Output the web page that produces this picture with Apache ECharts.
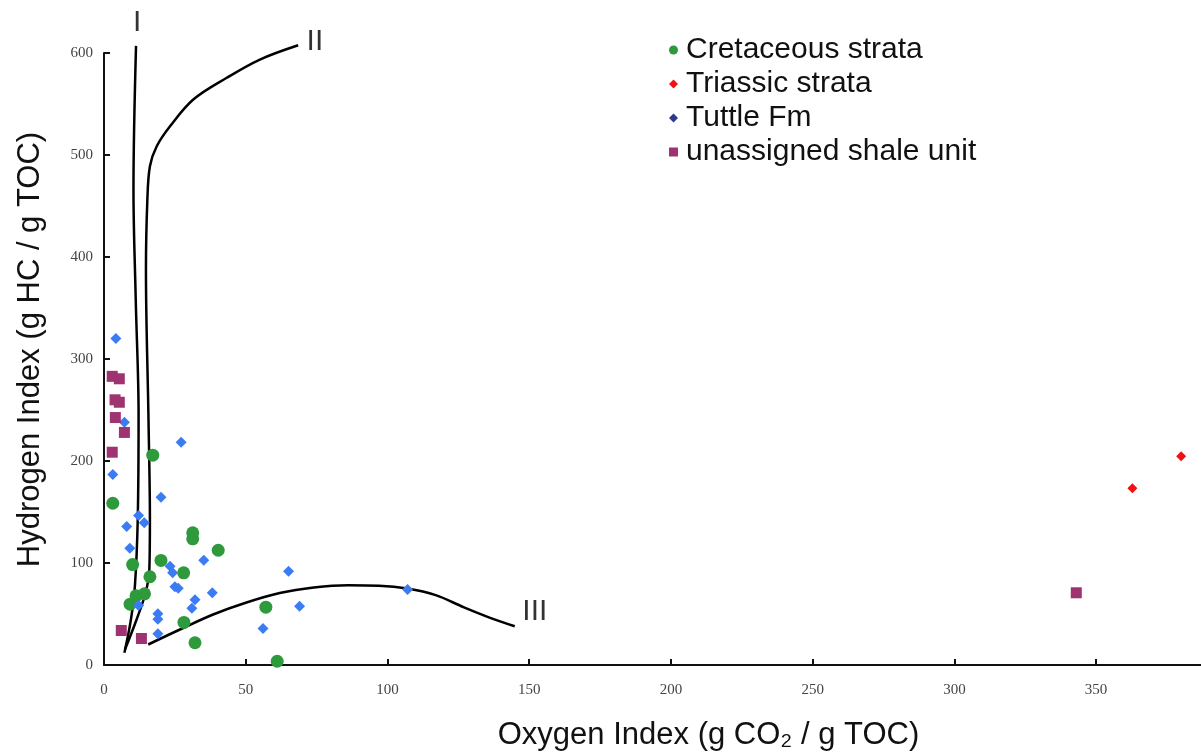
<!DOCTYPE html>
<html>
<head>
<meta charset="UTF-8">
<title>Hydrogen Index vs Oxygen Index</title>
<script type="text/javascript" src="https://cdn.jsdelivr.net/npm/echarts@6/dist/echarts.min.js"></script>
<style>
  html, body { margin: 0; padding: 0; background: #fff; }
</style>
</head>
<body>
<div id="mychart" style="width:1201px;height:756px;"></div>

<script type="text/javascript">

// sample points [Oxygen Index, Hydrogen Index]
var cretaceous = [
  [3.1, 158.6], [17.2, 205.7], [10.1, 98.5], [20.1, 102.5], [31.3, 129.6], [31.3, 123.7],
  [40.3, 112.5], [28.1, 90.4], [16.2, 86.5], [11.3, 67.8], [14.3, 69.8], [9.2, 59.6],
  [28.2, 41.7], [32.1, 21.8], [57.1, 56.7], [61.1, 3.7]
];
var triassic = [[362.8, 173.3], [380.0, 204.7]];
var tuttle = [
  [4.2, 320], [7.2, 238], [27.2, 218.5], [3.1, 186.8], [20.1, 164.5], [12.2, 146.6],
  [8.0, 135.8], [14.2, 139.4], [9.1, 114.5], [35.2, 102.7], [23.3, 96.9], [24.2, 90.4],
  [25.0, 76.7], [26.2, 75.3], [38.2, 70.8], [32.1, 63.9], [31.0, 55.7], [12.2, 58.3],
  [19.0, 50.2], [19.0, 44.9], [19.0, 30.6], [65.1, 92], [69.0, 57.7], [56.1, 35.8],
  [107.1, 74]
];
var unassigned = [
  [2.9, 283], [5.4, 280.6], [3.9, 260], [5.4, 257.6], [4.0, 242.6], [7.2, 228],
  [2.9, 208.6], [6.1, 33.8], [13.2, 26], [343, 70.8]
];

// kerogen type reference curves
var curveI = [
  [7.2, 12], [9.5, 44.6], [10.9, 77.3], [11.9, 142.6], [12.2, 245], [11.2, 358],
  [10.4, 466], [11.3, 607]
];
var curveII = [
  [7.4, 15.2], [11.5, 44.6], [14.7, 71.1], [16.0, 93.6], [16.2, 142.6], [15.7, 240.7],
  [14.8, 387.7], [15.3, 456.4], [16.2, 489], [18.6, 508.6], [23.3, 528.2], [31.5, 554.4],
  [43.3, 575.7], [55.0, 593.6], [68.5, 607.6]
];
var curveIII = [
  [15.6, 20.1], [26.8, 34.8], [38.5, 49.5], [50, 61], [62, 70.5], [74, 76], [86, 78.3],
  [97, 77.8], [107, 75], [117, 68.5], [127, 56.5], [136, 46.5], [144.9, 38]
];
var curveLabels = [
  {name: 'I', value: [11.7, 630]},
  {name: 'II', value: [74.4, 611]},
  {name: 'III', value: [152, 52.5]}
];

var mychart = echarts.init(document.getElementById('mychart'));

var tickFont = {fontFamily: 'Liberation Serif', fontSize: 15, color: '#444'};
var titleFont = {fontFamily: 'Liberation Sans', fontSize: 31, color: '#111'};

function curve(data) {
  return {
    type: 'line',
    data: data,
    smooth: 0.35,
    showSymbol: false,
    clip: false,
    silent: true,
    lineStyle: {color: '#000', width: 2.5},
    z: 1
  };
}

var option = {
  animation: false,
  grid: {left: 104, right: 0, top: 53, bottom: 90},
  legend: {
    orient: 'vertical',
    left: 664,
    top: 28,
    itemWidth: 9,
    itemHeight: 9,
    itemGap: 0,
    textStyle: {fontFamily: 'Liberation Sans', fontSize: 30, color: '#111', lineHeight: 34, padding: [0, 0, 0, 3]},
    data: [
      {name: 'Cretaceous strata', icon: 'circle'},
      {name: 'Triassic strata', icon: 'diamond'},
      {name: 'Tuttle Fm', icon: 'diamond', itemStyle: {color: '#2b3990'}},
      {name: 'unassigned shale unit', icon: 'rect'}
    ]
  },
  xAxis: {
    type: 'value',
    min: 0,
    max: 387,
    interval: 50,
    splitLine: {show: false},
    axisLine: {lineStyle: {color: '#111', width: 2}},
    axisTick: {inside: true, length: 6, lineStyle: {color: '#111', width: 2}},
    axisLabel: Object.assign({margin: 18, showMaxLabel: false}, tickFont),
    name: 'Oxygen Index (g CO₂ / g TOC)',
    nameLocation: 'middle',
    nameGap: 55,
    nameTextStyle: Object.assign({padding: [0, 0, 0, 112]}, titleFont)
  },
  yAxis: {
    type: 'value',
    min: 0,
    max: 600,
    interval: 100,
    splitLine: {show: false},
    axisLine: {show: true, lineStyle: {color: '#111', width: 2}},
    axisTick: {show: true, inside: true, length: 6, lineStyle: {color: '#111', width: 2}},
    axisLabel: Object.assign({margin: 11}, tickFont),
    name: 'Hydrogen Index (g HC / g TOC)',
    nameLocation: 'middle',
    nameGap: 58,
    nameTextStyle: Object.assign({padding: [0, 0, 0, 19]}, titleFont)
  },
  series: [
    curve(curveI),
    curve(curveII),
    curve(curveIII),
    {
      type: 'scatter',
      data: curveLabels,
      symbolSize: 0,
      clip: false,
      silent: true,
      label: {
        show: true,
        position: 'inside',
        formatter: '{b}',
        fontFamily: 'Liberation Sans',
        fontSize: 30,
        color: '#000'
      }
    },
    {
      name: 'Cretaceous strata',
      type: 'scatter',
      symbol: 'circle',
      symbolSize: 13,
      data: cretaceous,
      itemStyle: {color: '#2f9a3c', opacity: 1},
      z: 3
    },
    {
      name: 'Triassic strata',
      type: 'scatter',
      symbol: 'diamond',
      symbolSize: 10,
      data: triassic,
      itemStyle: {color: '#f21111', opacity: 1},
      z: 3
    },
    {
      name: 'Tuttle Fm',
      type: 'scatter',
      symbol: 'diamond',
      symbolSize: 11,
      data: tuttle,
      itemStyle: {color: '#3b7cf4', opacity: 1},
      z: 3
    },
    {
      name: 'unassigned shale unit',
      type: 'scatter',
      symbol: 'rect',
      symbolSize: 11,
      data: unassigned,
      itemStyle: {color: '#9f3372', opacity: 1},
      z: 3
    }
  ]
};

mychart.setOption(option);
</script>
</body>
</html>
